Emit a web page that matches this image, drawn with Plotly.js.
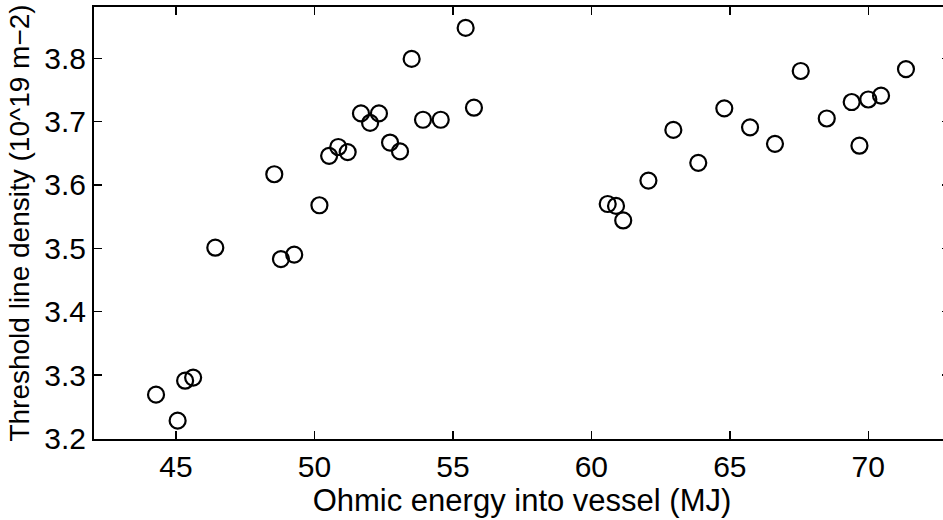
<!DOCTYPE html>
<html>
<head>
<meta charset="utf-8">
<script src="https://cdn.plot.ly/plotly-3.0.1.min.js"></script>
<style>
html, body { margin: 0; padding: 0; overflow: hidden; background: #fff; }
#chart { width: 950px; height: 520px; }
</style>
</head>
<body>
<div id="chart"></div>
<script>
// Ohmic energy into vessel (MJ)
const ohmicEnergy = [
  44.28, 45.06, 45.33, 45.62, 46.42, 48.55, 48.79, 49.27, 50.18, 50.53, 50.86,
  51.20, 51.68, 52.01, 52.33, 52.73, 53.09, 53.51, 53.92, 54.56, 55.46, 55.76,
  60.59, 60.89, 61.15, 62.06, 62.96, 63.86, 64.80, 65.73, 66.63, 67.56, 68.50,
  69.40, 69.68, 70.00, 70.46, 71.36
];
// Threshold line density (10^19 m-2)
const thresholdDensity = [
  3.269, 3.228, 3.291, 3.296, 3.501, 3.617, 3.483, 3.490, 3.568, 3.646, 3.660,
  3.652, 3.713, 3.698, 3.713, 3.667, 3.653, 3.799, 3.703, 3.703, 3.848, 3.722,
  3.570, 3.567, 3.544, 3.607, 3.687, 3.635, 3.721, 3.691, 3.665, 3.780, 3.705,
  3.731, 3.662, 3.735, 3.741, 3.783
];
const xTicks = [45, 50, 55, 60, 65, 70];
const yTicks = [3.2, 3.3, 3.4, 3.5, 3.6, 3.7, 3.8];

const FONT = "Liberation Sans, Arial, Helvetica, sans-serif";

const trace = {
  x: ohmicEnergy,
  y: thresholdDensity,
  type: 'scatter',
  mode: 'markers',
  marker: {
    symbol: 'circle-open',
    size: 16,
    color: '#000',
    line: { width: 2.2, color: '#000' }
  },
  hoverinfo: 'x+y'
};

const axisCommon = {
  showgrid: false,
  zeroline: false,
  showline: true,
  linewidth: 2,
  linecolor: '#000',
  mirror: 'ticks',
  ticks: 'inside',
  ticklen: 8,
  tickwidth: 1.5,
  tickcolor: '#000',
  tickfont: { family: FONT, size: 30, color: '#000' }
};

const layout = {
  width: 950,
  height: 520,
  margin: { l: 94, r: 0, t: 7, b: 81 },
  paper_bgcolor: '#fff',
  plot_bgcolor: '#fff',
  showlegend: false,
  xaxis: Object.assign({}, axisCommon, {
    range: [42.04, 72.95],
    tickmode: 'array',
    tickvals: xTicks,
    ticktext: xTicks.map(String),
    title: { text: 'Ohmic energy into vessel (MJ)', font: { family: FONT, size: 31, color: '#000' }, standoff: 6 }
  }),
  yaxis: Object.assign({}, axisCommon, {
    range: [3.199, 3.881],
    tickmode: 'array',
    tickvals: yTicks,
    ticktext: yTicks.map(v => v.toFixed(1)),
    title: { text: 'Threshold line density (10^19 m\u22122)', font: { family: FONT, size: 28, color: '#000' }, standoff: 6 }
  })
};

Plotly.newPlot('chart', [trace], layout, { displayModeBar: false, staticPlot: true });
</script>
</body>
</html>
